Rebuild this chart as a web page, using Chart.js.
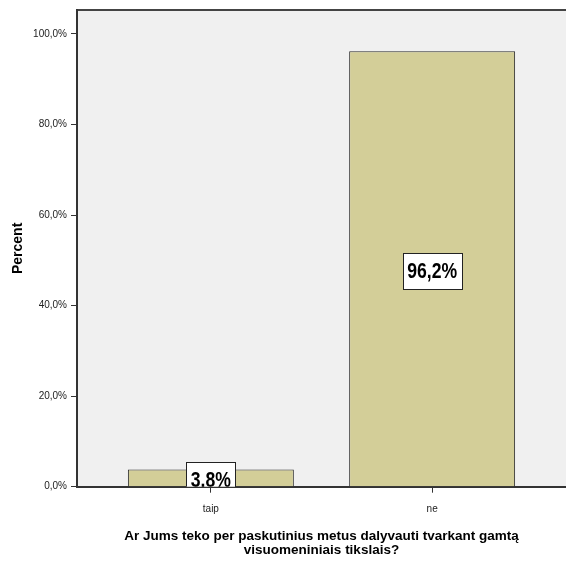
<!DOCTYPE html>
<html>
<head>
<meta charset="utf-8">
<script src="https://cdn.jsdelivr.net/npm/chart.js@4"></script>
<style>
  html, body { margin: 0; padding: 0; background: #fff; overflow: hidden; }
  #wrap { width: 566px; height: 563px; }
</style>
</head>
<body>
<div id="wrap"><canvas id="chart"></canvas></div>
<script>
/* Data */
const categories = ["taip", "ne"];
const percents = [3.8, 96.2];
const valueLabels = ["3.8%", "96,2%"];
const yTicks = [0, 20, 40, 60, 80, 100];
const xTitle = ["Ar Jums teko per paskutinius metus dalyvauti tvarkant gamtą", "visuomeniniais tikslais?"];
const yTitle = "Percent";

const sans = "'Liberation Sans', Arial, sans-serif";

// gray plot background + top frame line
const plotBackground = {
  id: "plotBackground",
  beforeDraw: function (chart) {
    const a = chart.chartArea;
    const ctx = chart.ctx;
    ctx.save();
    ctx.fillStyle = "#f0f0f0";
    ctx.fillRect(a.left, a.top, a.right - a.left, a.bottom - a.top);
    ctx.strokeStyle = "#444";
    ctx.lineWidth = 2;
    ctx.beginPath();
    ctx.moveTo(a.left, a.top);
    ctx.lineTo(a.right, a.top);
    ctx.stroke();
    ctx.restore();
  }
};

// boxed value labels in the middle of each bar (narrowed bold text, clipped to plot)
const boxLabels = {
  id: "boxLabels",
  afterDatasetsDraw: function (chart) {
    const ctx = chart.ctx;
    const a = chart.chartArea;
    const meta = chart.getDatasetMeta(0);
    const squeeze = 0.8;
    ctx.save();
    ctx.beginPath();
    ctx.rect(a.left, a.top, a.right - a.left, a.bottom - a.top);
    ctx.clip();
    meta.data.forEach(function (bar, i) {
      ctx.font = "bold 22px " + sans;
      const tw = ctx.measureText(valueLabels[i]).width * squeeze;
      const w = Math.round(tw + 9);
      const h = 36;
      const cy = (bar.y + bar.base) / 2 + 2;
      const left = Math.round(bar.x - w / 2);
      const top = Math.round(cy - h / 2);
      ctx.fillStyle = "#fff";
      ctx.fillRect(left, top, w, h);
      ctx.strokeStyle = "#222";
      ctx.lineWidth = 1;
      ctx.strokeRect(left + 0.5, top + 0.5, w, h);
      ctx.save();
      ctx.translate(bar.x, cy + 1);
      ctx.scale(squeeze, 1);
      ctx.fillStyle = "#000";
      ctx.textAlign = "center";
      ctx.textBaseline = "middle";
      ctx.fillText(valueLabels[i], 0, 0);
      ctx.restore();
    });
    ctx.restore();
  }
};

new Chart(document.getElementById("chart"), {
  type: "bar",
  data: {
    datasets: [{
      data: percents.map(function (v, i) { return { x: i + 1, y: v }; }),
      backgroundColor: "#d3ce98",
      borderColor: "#2a2a2a",
      borderWidth: 1,
      categoryPercentage: 1,
      barPercentage: 0.75
    }]
  },
  options: {
    responsive: true,
    maintainAspectRatio: false,
    animation: false,
    layout: { padding: { top: 9.5, right: 0, left: 0, bottom: 0 } },
    plugins: { legend: { display: false }, tooltip: { enabled: false } },
    scales: {
      x: {
        type: "linear",
        min: 0.395,
        max: 2.605,
        offset: false,
        z: 1,
        afterBuildTicks: function (scale) {
          scale.ticks = categories.map(function (c, i) { return { value: i + 1 }; });
        },
        afterFit: function (scale) { scale.height = 76.3; },
        grid: { offset: false, drawOnChartArea: false, drawTicks: true, tickLength: 6, color: "#333", lineWidth: 1 },
        border: { display: true, color: "#333", width: 2 },
        ticks: {
          color: "#222",
          font: { family: sans, size: 10 },
          padding: 11,
          maxRotation: 0,
          callback: function (v) { return categories[v - 1]; }
        },
        title: {
          display: true,
          text: xTitle,
          color: "#000",
          font: { family: sans, size: 13.5, weight: "bold", lineHeight: 1 },
          padding: { top: 0, bottom: 6 }
        }
      },
      y: {
        min: 0,
        max: 105.3,
        afterBuildTicks: function (scale) {
          scale.ticks = yTicks.map(function (v) { return { value: v }; });
        },
        afterFit: function (scale) { scale.width = 77; },
        grid: { drawOnChartArea: false, drawTicks: true, tickLength: 6, color: "#333", lineWidth: 1 },
        border: { display: true, color: "#333", width: 2 },
        ticks: {
          color: "#222",
          font: { family: sans, size: 10 },
          padding: 4,
          callback: function (v) { return v.toFixed(1).replace(".", ",") + "%"; }
        },
        title: {
          display: true,
          text: yTitle,
          color: "#000",
          font: { family: sans, size: 14, weight: "bold", lineHeight: 1 },
          padding: { top: 11, bottom: 0 }
        }
      }
    }
  },
  plugins: [plotBackground, boxLabels]
});
</script>
</body>
</html>
